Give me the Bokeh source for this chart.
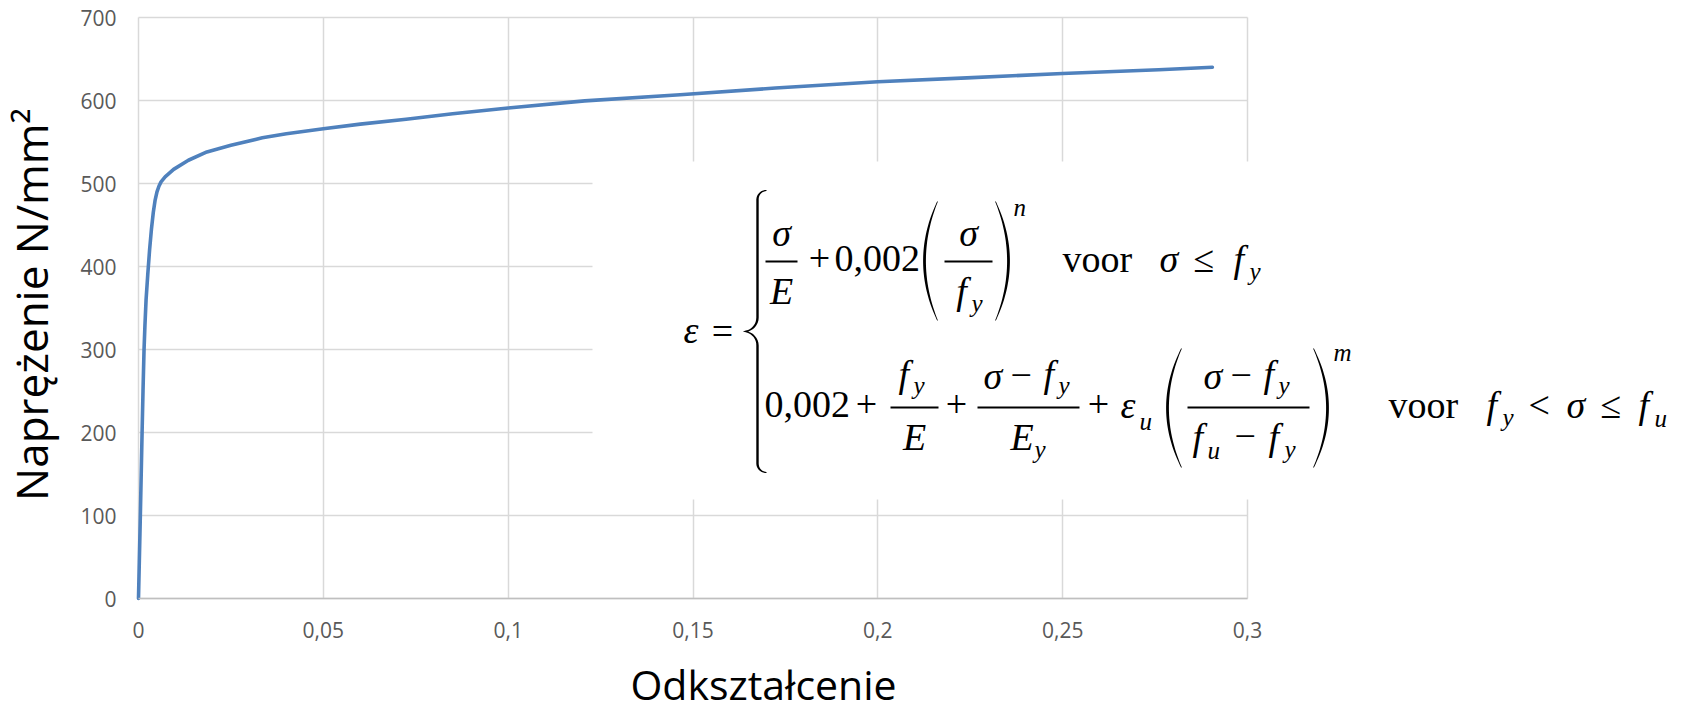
import numpy as np
from bokeh.plotting import figure
from bokeh.models import Range1d, FixedTicker, Label, BoxAnnotation, PolyAnnotation, Grid
from bokeh.embed import file_html
from bokeh.resources import INLINE

# Stress-strain curve of the steel: strain [-] and stress [N/mm²]
strain = [0.0, 0.0005, 0.00097, 0.00122, 0.0015, 0.00175, 0.00205, 0.0025, 0.0030,
          0.0035, 0.0040, 0.0045, 0.0050, 0.00555, 0.0061, 0.0072, 0.0095, 0.0135,
          0.0185, 0.0250, 0.0335, 0.0400, 0.0500, 0.0600, 0.0724, 0.0850, 0.1000,
          0.1207, 0.1465, 0.1723, 0.2000, 0.2241, 0.2500, 0.2760, 0.2905]
stress = [0, 100, 200, 250, 300, 330, 360, 390, 420,
          445, 465, 480, 490, 497, 502, 508, 517, 528,
          538, 546, 555, 560, 566, 571.5, 577.5, 584, 591,
          599.5, 607, 615, 622.5, 627.3, 632.5, 637, 640]

x_ticks = [0.0, 0.05, 0.1, 0.15, 0.2, 0.25, 0.3]
x_tick_labels = ["0", "0,05", "0,1", "0,15", "0,2", "0,25", "0,3"]
y_ticks = [0, 100, 200, 300, 400, 500, 600, 700]

x_title = "Odkształcenie"
y_title = "Naprężenie N/mm²"

# Canvas and placement of the chart rectangle (pixels)
W, H = 1685, 711
X0_PX, X1_PX = 138, 1247      # strain 0 and 0.3
Y0_PX, Y1_PX = 598, 17        # stress 0 and 700
X_MAX, Y_MAX = 0.3, 700
KX = (X1_PX - X0_PX) / X_MAX
KY = (Y0_PX - Y1_PX) / Y_MAX

# vertical distance from a label's anchor to its baseline, per px of font size
SERIF_DROP = 0.3375
SANS_DROP = 0.388


def to_x(px):
    return (np.asarray(px, dtype=float) - X0_PX) / KX


def to_y(py):
    return (Y0_PX - np.asarray(py, dtype=float)) / KY


# The plot frame spans the whole canvas; axes sit at the data origin.
p = figure(width=W, height=H,
           x_range=Range1d(-X0_PX / KX, (W - X0_PX) / KX),
           y_range=Range1d(-(H - Y0_PX) / KY, Y0_PX / KY),
           output_backend="svg", toolbar_location=None,
           min_border=0, min_border_left=0, min_border_right=0,
           min_border_top=0, min_border_bottom=0)
p.outline_line_color = None
p.background_fill_color = "white"
p.border_fill_color = "white"

p.xaxis.ticker = FixedTicker(ticks=x_ticks)
p.xgrid.ticker = FixedTicker(ticks=x_ticks)
p.yaxis.ticker = FixedTicker(ticks=y_ticks)
p.ygrid.ticker = FixedTicker(ticks=y_ticks)
p.xaxis.major_label_overrides = {t: s for t, s in zip(x_ticks, x_tick_labels)}
p.xaxis.fixed_location = 0
p.yaxis.fixed_location = 0
p.xaxis.bounds = (0, X_MAX)
p.yaxis.bounds = (0, Y_MAX)

for ax in (p.xaxis[0], p.yaxis[0]):
    ax.major_tick_line_color = None
    ax.minor_tick_line_color = None
    ax.major_tick_out = 0
    ax.major_tick_in = 0
    ax.major_label_text_font = "Open Sans"
    ax.major_label_text_font_size = "21px"
    ax.major_label_text_color = "#595959"
p.yaxis.axis_line_color = None
p.xaxis.axis_line_color = "#bfbfbf"
p.xaxis.axis_line_width = 1.5
p.yaxis.major_label_standoff = 22
p.xaxis.major_label_standoff = 23

for g in (p.xgrid[0], p.ygrid[0]):
    g.grid_line_color = "#d9d9d9"
    g.grid_line_width = 1.5

if "cross_bounds" in Grid.properties():
    p.xgrid.bounds = (0, X_MAX)
    p.xgrid.cross_bounds = (0, Y_MAX)
    p.ygrid.bounds = (0, Y_MAX)
    p.ygrid.cross_bounds = (0, X_MAX)
else:
    # blank out grid lines outside the chart rectangle
    for kw in (dict(right=-0.0002), dict(left=X_MAX + 0.0002),
               dict(bottom=Y_MAX + 1, left=-0.0002, right=X_MAX + 0.0002),
               dict(top=-1, left=-0.0002, right=X_MAX + 0.0002)):
        p.add_layout(BoxAnnotation(fill_color="white", fill_alpha=1.0, line_color=None,
                                   level="underlay", **kw))

p.line(strain, stress, line_color="#4f81bd", line_width=3.6,
       line_cap="round", line_join="round")

# Axis titles (positions given by their baselines)
p.add_layout(Label(x=float(to_x(763)), y=float(to_y(699 - SANS_DROP * 41)), text=x_title,
                   text_font="Open Sans", text_font_size="41px", text_color="black",
                   text_align="center", text_baseline="alphabetic"))
p.add_layout(Label(x=float(to_x(47.5 - SANS_DROP * 44)), y=float(to_y(304)), text=y_title,
                   angle=np.pi / 2,
                   text_font="Open Sans", text_font_size="44px", text_color="black",
                   text_align="center", text_baseline="alphabetic"))

# White panel behind the constitutive formula
p.add_layout(BoxAnnotation(left=float(to_x(592)), bottom=float(to_y(499)),
                           top=float(to_y(161)), fill_color="white", fill_alpha=1.0,
                           line_color=None))


def stroke(cx, cy, widths):
    """Filled outline of a variable-width stroke along a pixel centreline."""
    cx = np.asarray(cx, float)
    cy = np.asarray(cy, float)
    tx, ty = np.gradient(cx), np.gradient(cy)
    n = np.hypot(tx, ty)
    n[n == 0] = 1
    nx, ny = -ty / n, tx / n
    w = np.asarray(widths, float) / 2
    px = np.concatenate([cx + nx * w, (cx - nx * w)[::-1]])
    py = np.concatenate([cy + ny * w, (cy - ny * w)[::-1]])
    p.add_layout(PolyAnnotation(xs=list(to_x(px)), ys=list(to_y(py)),
                                fill_color="black", fill_alpha=1.0, line_color=None))


def brace(x_stem, y_top, y_bot, x_tip, hook=9):
    r = x_stem - x_tip
    y_mid = (y_top + y_bot) / 2
    xs, ys, ws = [], [], []
    t = np.linspace(np.pi / 2, np.pi, 10)
    xs += list(x_stem + hook + hook * np.cos(t)); ys += list(y_top + hook - hook * np.sin(t))
    ws += list(np.linspace(1.0, 2.4, 10))
    s = np.linspace(y_top + hook, y_mid - r, 12)[1:]
    xs += [x_stem] * len(s); ys += list(s); ws += [2.4] * len(s)
    t = np.linspace(0, -np.pi / 2, 10)[1:]
    xs += list(x_stem - r + r * np.cos(t)); ys += list(y_mid - r - r * np.sin(t))
    ws += list(np.linspace(2.4, 1.3, 9))
    t = np.linspace(np.pi / 2, 0, 10)[1:]
    xs += list(x_stem - r + r * np.cos(t)); ys += list(y_mid + r - r * np.sin(t))
    ws += list(np.linspace(1.3, 2.4, 9))
    s = np.linspace(y_mid + r, y_bot - hook, 12)[1:]
    xs += [x_stem] * len(s); ys += list(s); ws += [2.4] * len(s)
    t = np.linspace(np.pi, 1.5 * np.pi, 10)[1:]
    xs += list(x_stem + hook + hook * np.cos(t)); ys += list(y_bot - hook - hook * np.sin(t))
    ws += list(np.linspace(2.4, 1.0, 9))
    stroke(xs, ys, ws)


def paren(x_end, y_top, y_bot, bulge):
    """Tall bracket; negative bulge gives '(', positive gives ')'."""
    y = np.linspace(y_top, y_bot, 40)
    u = (y - (y_top + y_bot) / 2) / ((y_bot - y_top) / 2)
    x = x_end + bulge * (1 - u ** 2)
    stroke(x, y, 0.7 + 2.1 * (1 - u ** 2))


def bar(x0, x1, y, th=1.8):
    p.add_layout(PolyAnnotation(xs=list(to_x([x0, x1, x1, x0])),
                                ys=list(to_y([y - th / 2, y - th / 2, y + th / 2, y + th / 2])),
                                fill_color="black", fill_alpha=1.0, line_color=None))


def put(text, x, base, size=38, italic=True, align="left"):
    """Formula text with its baseline at pixel row `base`."""
    p.add_layout(Label(x=float(to_x(x)), y=float(to_y(base - SERIF_DROP * size)), text=text,
                       text_font="Liberation Serif",
                       text_font_style="italic" if italic else "normal",
                       text_font_size=f"{size}px", text_color="black",
                       text_align=align, text_baseline="alphabetic"))


# eps = { ... two branches of the stress-strain law
put("ε", 683, 342)
put("=", 722, 343, italic=False, align="center")
brace(757, 190, 472, 743)

# first branch: sigma / E + 0,002 (sigma / f_y)^n  voor  sigma <= f_y
bar(765, 797, 261)
put("σ", 781, 245, align="center")
put("E", 781, 303, align="center")
put("+", 819, 271, italic=False, align="center")
put("0,002", 834, 271, italic=False)
paren(937, 201, 320, -13)
bar(944, 992, 261)
put("σ", 968, 245, align="center")
put("f", 961, 303, align="center")
put("y", 971, 311, 25)
paren(995, 201, 320, 13)
put("n", 1013, 215, 25)
put("voor", 1062, 271, italic=False)
put("σ", 1159, 271)
put("≤", 1193, 271, italic=False)
put("f", 1233, 271)
put("y", 1249, 279, 25)

# second branch
put("0,002", 764, 417, italic=False)
put("+", 866, 417, italic=False, align="center")
bar(890, 938, 407)
put("f", 898, 386)
put("y", 913, 393, 25)
put("E", 914, 449, align="center")
put("+", 956, 417, italic=False, align="center")
bar(977, 1079, 407)
put("σ", 983, 388)
put("−", 1010, 388, italic=False)
put("f", 1043, 386)
put("y", 1058, 393, 25)
put("E", 1010, 449)
put("y", 1034, 457, 25)
put("+", 1098, 417, italic=False, align="center")
put("ε", 1120, 417)
put("u", 1139, 429, 25)
paren(1181, 348, 467, -14)
bar(1187, 1309, 407)
put("σ", 1203, 388)
put("−", 1230, 388, italic=False)
put("f", 1263, 386)
put("y", 1278, 393, 25)
put("f", 1192, 449)
put("u", 1207, 458, 25)
put("−", 1234, 449, italic=False)
put("f", 1268, 449)
put("y", 1284, 457, 25)
paren(1313, 348, 467, 14)
put("m", 1333, 360, 25)
put("voor", 1388, 417, italic=False)
put("f", 1486, 417)
put("y", 1502, 425, 25)
put("<", 1528, 417, italic=False)
put("σ", 1566, 417)
put("≤", 1600, 417, italic=False)
put("f", 1638, 417)
put("u", 1654, 426, 25)

open("out.html", "w").write(file_html(p, INLINE))
